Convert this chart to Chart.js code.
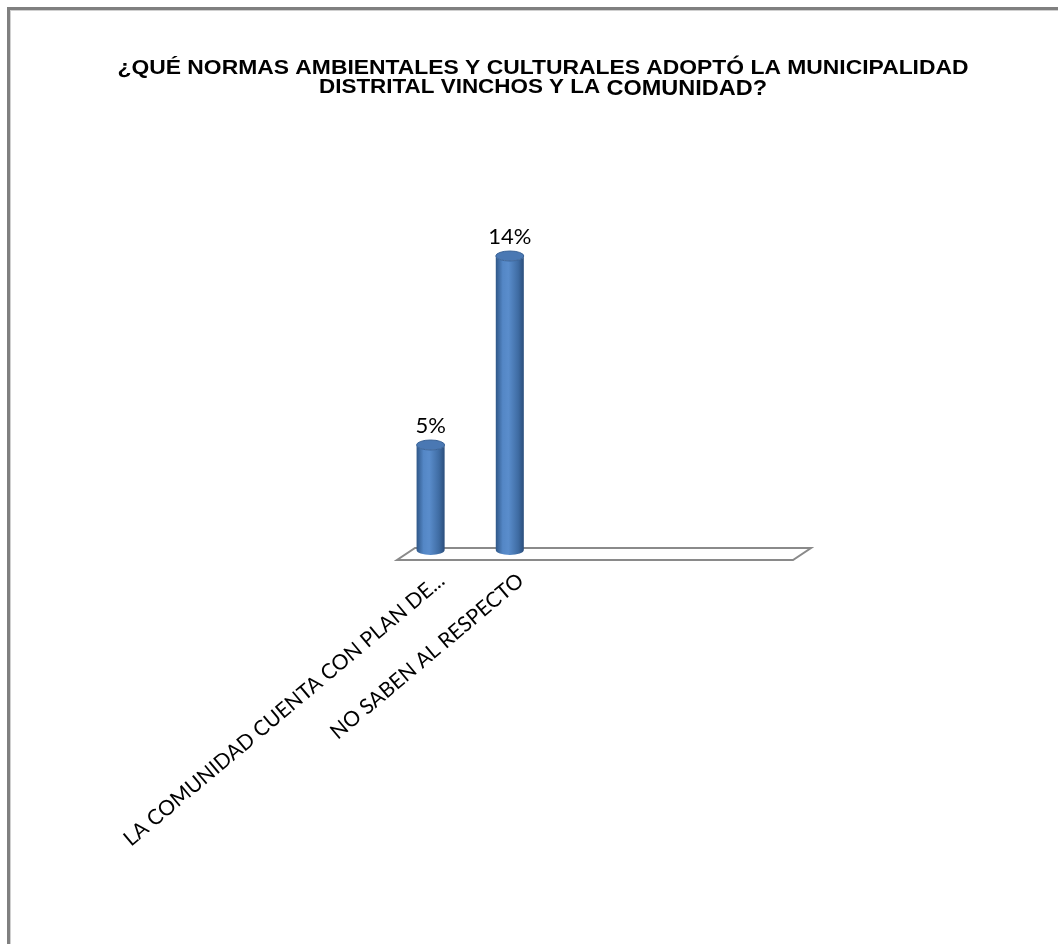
<!DOCTYPE html>
<html>
<head>
<meta charset="utf-8">
<script src="https://cdn.jsdelivr.net/npm/chart.js@4.4.1/dist/chart.umd.min.js"></script>
<style>
  html, body { margin: 0; padding: 0; background: #ffffff; }
  #wrap { width: 1058px; height: 944px; position: relative; }
</style>
</head>
<body>
<div id="wrap"><canvas id="grafico"></canvas></div>
<script>
// datos del grafico
const categorias = ["LA COMUNIDAD CUENTA CON PLAN DE...", "NO SABEN AL RESPECTO", "", "", ""];
const porcentajes = [5, 14, null, null, null];
const ejeYMin = 0;
const ejeYMax = 16;
const tituloLinea1 = "¿QUÉ NORMAS AMBIENTALES Y CULTURALES ADOPTÓ LA MUNICIPALIDAD";
const tituloLinea2a = "DISTRITAL VINCHOS Y LA ";
const tituloLinea2b = "COMUNIDAD?";

// marco, titulo, piso 3D y cilindros
const dibujoExtra = {
    id: "dibujoExtra",
    beforeDraw(chart) {
        const ctx = chart.ctx;
        ctx.save();
        ctx.fillStyle = "#ffffff";
        ctx.fillRect(0, 0, chart.width, chart.height);
        // marco gris arriba e izquierda
        ctx.fillStyle = "#808080";
        ctx.fillRect(7, 7, chart.width - 7, 3);
        ctx.fillRect(7, 7, 3, chart.height - 7);
        ctx.fillStyle = "#d0d0d0";
        ctx.fillRect(10, 10, chart.width - 10, 1);
        ctx.fillRect(10, 10, 1, chart.height - 10);

        // titulo (letra angosta)
        ctx.fillStyle = "#000000";
        ctx.textBaseline = "alphabetic";
        const f1 = "bold 21px 'Liberation Sans', Arial, sans-serif";
        const f2 = "bold 22px 'Liberation Sans', Arial, sans-serif";
        const cx = 543;

        ctx.font = f1;
        const w1 = ctx.measureText(tituloLinea1).width;
        const escala1 = 851 / w1;
        ctx.save();
        ctx.translate(cx, 74);
        ctx.scale(escala1, 1);
        ctx.textAlign = "center";
        ctx.fillText(tituloLinea1, 0, 0);
        ctx.restore();

        ctx.font = f1;
        const wa = ctx.measureText(tituloLinea2a).width;
        ctx.font = f2;
        const wb = ctx.measureText(tituloLinea2b).width;
        const escala2 = 448 / (wa + wb);
        ctx.save();
        ctx.translate(cx, 0);
        ctx.scale(escala2, 1);
        const inicio = -(wa + wb) / 2;
        ctx.textAlign = "left";
        ctx.font = f1;
        ctx.fillText(tituloLinea2a, inicio, 93);
        ctx.font = f2;
        ctx.fillText(tituloLinea2b, inicio + wa, 95);
        ctx.restore();
        ctx.restore();
    },
    beforeDatasetsDraw(chart) {
        const ctx = chart.ctx;
        const area = chart.chartArea;
        const y0 = chart.scales.y.getPixelForValue(0);
        // piso en perspectiva
        ctx.save();
        ctx.beginPath();
        ctx.moveTo(area.left + 6, y0 + 10);
        ctx.lineTo(area.right + 6, y0 + 10);
        ctx.lineTo(area.right + 24, y0 - 2);
        ctx.lineTo(area.left + 24, y0 - 2);
        ctx.closePath();
        ctx.fillStyle = "#ffffff";
        ctx.fill();
        ctx.lineWidth = 2;
        ctx.strokeStyle = "#8a8a8a";
        ctx.stroke();
        ctx.restore();
    },
    afterDatasetsDraw(chart) {
        const ctx = chart.ctx;
        const meta = chart.getDatasetMeta(0);
        meta.data.forEach((bar, i) => {
            const valor = porcentajes[i];
            if (valor === null || valor === undefined) return;
            const x = bar.x;
            const top = bar.y;
            const base = bar.base;
            const rx = bar.width / 2;
            const ry = 5;
            const izq = x - rx;
            const der = x + rx;

            const grad = ctx.createLinearGradient(izq, 0, der, 0);
            grad.addColorStop(0, "#2f5788");
            grad.addColorStop(0.25, "#5487c6");
            grad.addColorStop(0.45, "#5a8dcc");
            grad.addColorStop(0.8, "#3f6ca3");
            grad.addColorStop(1, "#2b4e7c");

            ctx.save();
            ctx.beginPath();
            ctx.moveTo(izq, top);
            ctx.lineTo(izq, base);
            ctx.ellipse(x, base, rx, ry, 0, Math.PI, 0, true);
            ctx.lineTo(der, top);
            ctx.ellipse(x, top, rx, ry, 0, 0, Math.PI, false);
            ctx.closePath();
            ctx.fillStyle = grad;
            ctx.fill();

            // tapa superior
            ctx.beginPath();
            ctx.ellipse(x, top, rx, ry, 0, 0, Math.PI * 2);
            ctx.fillStyle = "#4a78b3";
            ctx.fill();
            ctx.lineWidth = 1;
            ctx.strokeStyle = "#3b6498";
            ctx.stroke();

            // etiqueta de valor
            ctx.fillStyle = "#000000";
            ctx.font = "22px Lato, 'Open Sans', sans-serif";
            ctx.textAlign = "center";
            ctx.textBaseline = "alphabetic";
            ctx.fillText(valor + "%", x, top - 12);
            ctx.restore();
        });
    }
};

const ctx = document.getElementById("grafico").getContext("2d");

window.miGrafico = new Chart(ctx, {
    type: "bar",
    data: {
        labels: categorias,
        datasets: [
            {
                label: "Porcentaje",
                data: porcentajes,
                backgroundColor: "rgba(0,0,0,0)",
                borderWidth: 0,
                barPercentage: 0.6,
                categoryPercentage: 0.59,
            },
        ],
    },
    options: {
        responsive: true,
        maintainAspectRatio: false,
        animation: false,
        layout: {
            padding: { left: 391, right: 271, top: 214, bottom: 0 },
        },
        plugins: {
            legend: { display: false },
            tooltip: { enabled: false },
            title: { display: false },
        },
        scales: {
            x: {
                grid: { display: false, drawTicks: false },
                border: { display: false },
                afterFit(scale) {
                    scale.height = 394;
                },
                ticks: {
                    color: "#000000",
                    font: { family: "Lato, 'Open Sans', sans-serif", size: 21 },
                    minRotation: 40,
                    maxRotation: 40,
                    autoSkip: false,
                    padding: 18,
                    labelOffset: 11,
                },
            },
            y: {
                display: false,
                min: ejeYMin,
                max: ejeYMax,
            },
        },
    },
    plugins: [dibujoExtra],
});
</script>
</body>
</html>
